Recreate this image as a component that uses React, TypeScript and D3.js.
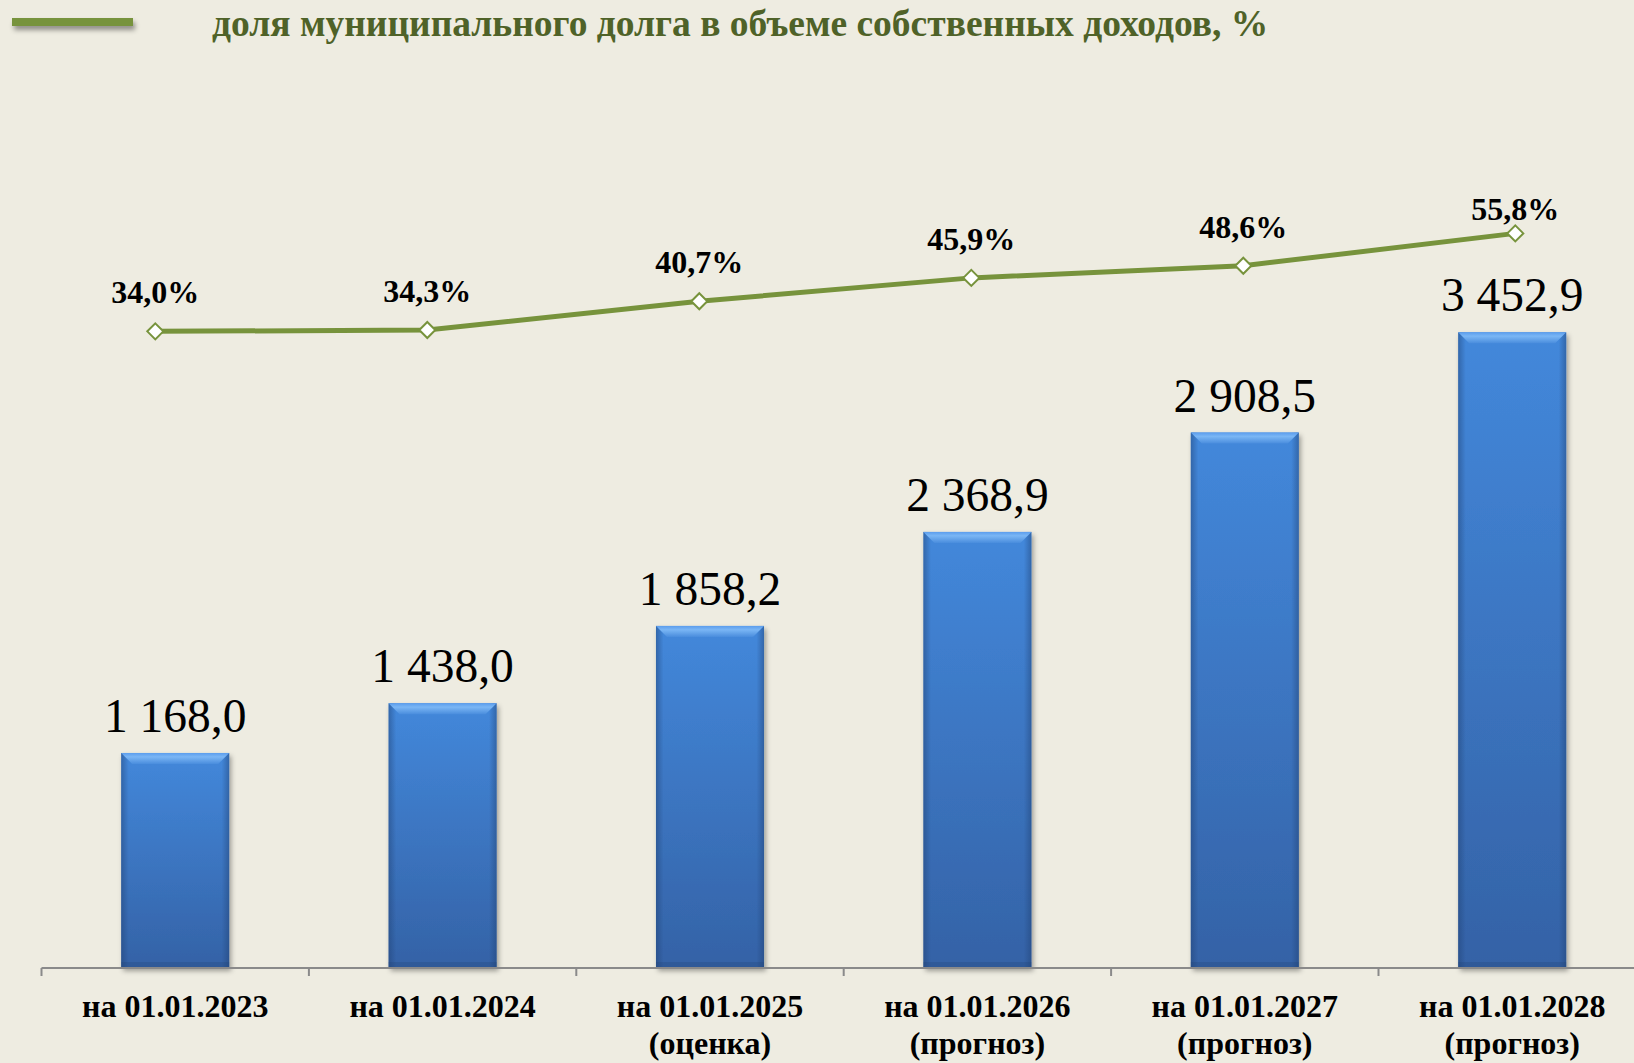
import React from "react";
import * as d3 from "d3";

const categories = [
  ["на 01.01.2023"],
  ["на 01.01.2024"],
  ["на 01.01.2025", "(оценка)"],
  ["на 01.01.2026", "(прогноз)"],
  ["на 01.01.2027", "(прогноз)"],
  ["на 01.01.2028", "(прогноз)"],
];
const debtValues = [1168.0, 1438.0, 1858.2, 2368.9, 2908.5, 3452.9];
const debtLabels = ["1 168,0", "1 438,0", "1 858,2", "2 368,9", "2 908,5", "3 452,9"];
const shareValues = [34.0, 34.3, 40.7, 45.9, 48.6, 55.8];
const shareLabels = ["34,0%", "34,3%", "40,7%", "45,9%", "48,6%", "55,8%"];
const legendText = "доля муниципального долга в объеме собственных доходов, %";

const W = 1634;
const H = 1063;

export default function App() {
  const keys = categories.map((_, i) => String(i));
  const axisY = 968;
  const x = d3.scaleBand<string>().domain(keys).range([41.5, 41.5 + 6 * 267.4]).paddingInner(0.596).paddingOuter(0.298);
  const y = d3.scaleLinear().domain([0, 4000]).range([axisY, axisY - 736.4]);
  const xl = d3.scalePoint<string>().domain(keys).range([155.3, 1515.3]);
  const yl = d3.scaleLinear().domain([0, 100]).range([484.2, 34.7]);
  const line = d3.line<number>().x((_, i) => xl(keys[i])!).y((d) => yl(d));
  const step = x.step();
  const x0 = 41.5;
  const serif = "'Liberation Serif', 'Times New Roman', serif";

  return (
    <svg width={W} height={H} style={{ position: "absolute", left: 0, top: 0, display: "block" }} xmlns="http://www.w3.org/2000/svg">
      <defs>
        <linearGradient id="barMain" x1="0" y1="0" x2="0" y2="1">
          <stop offset="0" stopColor="#4388db" />
          <stop offset="1" stopColor="#3462a6" />
        </linearGradient>
        <linearGradient id="barSide" x1="0" y1="0" x2="1" y2="0">
          <stop offset="0" stopColor="#1f3f70" stopOpacity="0.45" />
          <stop offset="0.07" stopColor="#1f3f70" stopOpacity="0" />
          <stop offset="0.93" stopColor="#1f3f70" stopOpacity="0" />
          <stop offset="1" stopColor="#1f3f70" stopOpacity="0.45" />
        </linearGradient>
        <linearGradient id="bevel" x1="0" y1="0" x2="0" y2="1">
          <stop offset="0" stopColor="#5b9ded" />
          <stop offset="0.35" stopColor="#7ab6f5" />
          <stop offset="1" stopColor="#4a8ddd" />
        </linearGradient>
        <filter id="shadow" x="-20%" y="-20%" width="140%" height="140%">
          <feDropShadow dx="2" dy="3" stdDeviation="2.5" floodColor="#000" floodOpacity="0.35" />
        </filter>
        <filter id="lshadow" x="-20%" y="-100%" width="140%" height="400%">
          <feDropShadow dx="2" dy="4" stdDeviation="2.5" floodColor="#000" floodOpacity="0.4" />
        </filter>
      </defs>
      <rect x={0} y={0} width={W} height={H} fill="#EEECE1" />

      {/* legend */}
      <rect x={12} y={18} width={121} height={8} fill="#77933C" filter="url(#lshadow)" />
      <text x={212} y={36} fontFamily={serif} fontWeight="bold" fontSize={37.5} fill="#4F6228">
        {legendText}
      </text>

      {/* bars */}
      {debtValues.map((v, i) => {
        const bx = x(keys[i])!;
        const bw = x.bandwidth();
        const by = y(v);
        const bh = axisY - by;
        const bv = 11;
        return (
          <g key={i}>
            <rect x={bx} y={by} width={bw} height={bh} fill="url(#barMain)" filter="url(#shadow)" />
            <rect x={bx} y={by} width={bw} height={bh} fill="url(#barSide)" />
            <rect x={bx} y={axisY - 6} width={bw} height={6} fill="#1f3f70" opacity={0.25} />
            <polygon
              points={`${bx},${by} ${bx + bw},${by} ${bx + bw - bv},${by + bv} ${bx + bv},${by + bv}`}
              fill="url(#bevel)"
            />
            <text x={bx + bw / 2} y={by - 21} textAnchor="middle" fontFamily={serif} fontSize={47.5} fill="#000">
              {debtLabels[i]}
            </text>
          </g>
        );
      })}

      {/* axis */}
      <line x1={x0} x2={W} y1={axisY} y2={axisY} stroke="#8a8a8a" strokeWidth={2} />
      {keys.map((_, i) => (
        <line key={i} x1={x0 + i * step} x2={x0 + i * step} y1={axisY} y2={axisY + 8} stroke="#8a8a8a" strokeWidth={2} />
      ))}
      {categories.map((lines, i) => (
        <text key={i} x={x(keys[i])! + x.bandwidth() / 2} y={1016.7} textAnchor="middle" fontFamily={serif} fontWeight="bold" fontSize={32} fill="#000">
          {lines.map((l, j) => (
            <tspan key={j} x={x(keys[i])! + x.bandwidth() / 2} dy={j === 0 ? 0 : 37}>
              {l}
            </tspan>
          ))}
        </text>
      ))}

      {/* line series */}
      <path d={line(shareValues)!} fill="none" stroke="#77933C" strokeWidth={5} />
      {shareValues.map((v, i) => {
        const cx = xl(keys[i])!;
        const cy = yl(v);
        const r = 8;
        return (
          <g key={i}>
            <polygon points={`${cx},${cy - r} ${cx + r},${cy} ${cx},${cy + r} ${cx - r},${cy}`} fill="#fff" stroke="#77933C" strokeWidth={2} />
            <text x={cx} y={cy - (i === shareValues.length - 1 ? 13.5 : 28)} textAnchor="middle" fontFamily={serif} fontWeight="bold" fontSize={32} fill="#000">
              {shareLabels[i]}
            </text>
          </g>
        );
      })}
    </svg>
  );
}
